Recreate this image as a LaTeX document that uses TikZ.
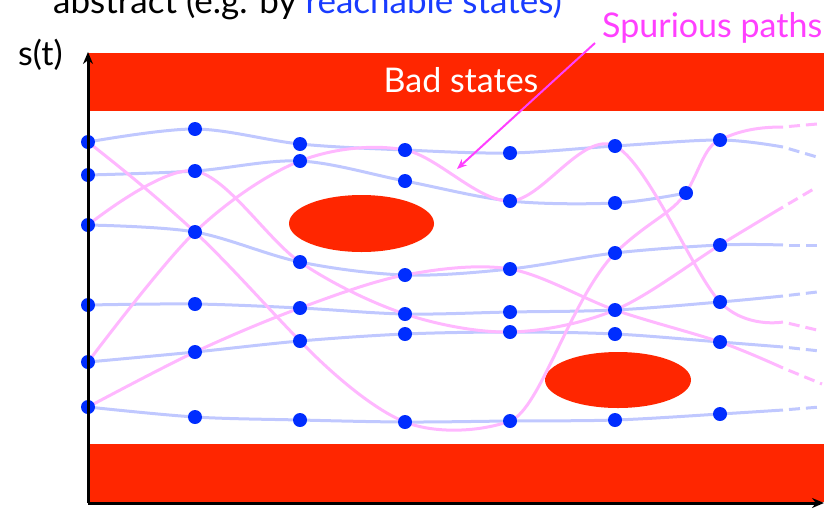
\documentclass[tikz,border=0pt]{standalone}
\usepackage{fontspec}
\setmainfont{Lato}
\usetikzlibrary{arrows.meta,backgrounds}
\definecolor{badred}{RGB}{255,38,0}
\definecolor{dotblue}{RGB}{0,45,255}
\definecolor{lineblue}{RGB}{192,200,255}
\definecolor{linepink}{RGB}{255,184,255}
\definecolor{spur}{RGB}{255,64,255}
\definecolor{textblue}{RGB}{25,60,255}
\begin{document}
\begin{tikzpicture}[x=1pt,y=-1pt,
  dot/.style={circle,fill=dotblue,inner sep=0pt,minimum size=14pt},
  bline/.style={draw=lineblue,line width=3pt},
  pline/.style={draw=linepink,line width=3pt},
  tailb/.style={draw=lineblue,line width=3pt,dash pattern=on 11pt off 6pt,dash phase=11pt},
  tailp/.style={draw=linepink,line width=3pt,dash pattern=on 11pt off 6pt,dash phase=11pt},
  lbl/.style={inner sep=0pt,anchor=base west,font=\fontsize{34}{40}\selectfont},
  axis/.style={line width=3pt,-{Stealth[length=12pt,width=10pt]}}]
\clip (0,0) rectangle (832,509);
% dots
\foreach \n/\x/\y in {a1/88/142,a2/88/175,a3/88/225,a4/88/305,a5/88/362,a6/88/407,
  b1/195/129,b2/195/171,b3/195/232,b4/195/304,b5/195/352,b6/195/417,
  c1/300/144,c2/300/161,c3/300/262,c4/300/308,c5/300/341,c6/300/420,
  d1/405/150,d2/405/181,d3/405/275,d4/405/314,d5/405/334,d6/405/422,
  e1/510/153,e2/510/201,e3/510/269,e4/510/312,e5/510/332,e6/510/421,
  f1/615/146,f2/615/203,f3/615/253,f4/615/310,f5/615/334,f6/615/420,
  x1/686/193,
  g1/720/140,g2/720/245,g3/720/302,g4/720/342,g5/720/414}
  {\node[dot] (\n) at (\x,\y) {};}
% curve ends
\coordinate (bs1) at (783,147); \coordinate (bt1) at (817,157);
\coordinate (bs3) at (783,245); \coordinate (bt3) at (817,245);
\coordinate (bs4) at (783,296); \coordinate (bt4) at (817,292);
\coordinate (bs5) at (783,347); \coordinate (bt5) at (820,351);
\coordinate (bs6) at (783,410); \coordinate (bt6) at (820,407);
\coordinate (psA) at (783,127); \coordinate (ptA) at (817,124);
\coordinate (psB) at (783,322); \coordinate (ptB) at (817,330);
\coordinate (psC) at (783,368); \coordinate (ptC) at (822,384);
\coordinate (psD) at (783,207); \coordinate (ptD) at (817,187);
\begin{pgfonlayer}{background}
  \fill[badred] (88,53) rectangle (824,111);
  \fill[badred] (88,444) rectangle (824,502);
  \fill[badred] (361.5,223.5) ellipse [x radius=72.5pt, y radius=28.5pt];
  \fill[badred] (618,380) ellipse [x radius=73pt, y radius=28pt];
  % blue paths
  \draw[bline] plot[smooth,tension=0.55] coordinates {(a1.center) (b1.center) (c1.center) (d1.center) (e1.center) (f1.center) (g1.center) (bs1)};
  \draw[bline] plot[smooth,tension=0.55] coordinates {(a2.center) (b2.center) (c2.center) (d2.center) (e2.center) (f2.center) (x1.center)};
  \draw[bline] plot[smooth,tension=0.55] coordinates {(a3.center) (b3.center) (c3.center) (d3.center) (e3.center) (f3.center) (g2.center) (bs3)};
  \draw[bline] plot[smooth,tension=0.55] coordinates {(a4.center) (b4.center) (c4.center) (d4.center) (e4.center) (f4.center) (g3.center) (bs4)};
  \draw[bline] plot[smooth,tension=0.55] coordinates {(a5.center) (b5.center) (c5.center) (d5.center) (e5.center) (f5.center) (g4.center) (bs5)};
  \draw[bline] plot[smooth,tension=0.55] coordinates {(a6.center) (b6.center) (c6.center) (d6.center) (e6.center) (f6.center) (g5.center) (bs6)};
  \draw[tailb] (bs1) -- (bt1);
  \draw[tailb] (bs3) -- (bt3);
  \draw[tailb] (bs4) -- (bt4);
  \draw[tailb] (bs5) -- (bt5);
  \draw[tailb] (bs6) -- (bt6);
  % pink paths
  \draw[pline] (a1.center) .. controls (130,175) and (160,200) .. (b3.center)
    .. controls (230,265) and (265,305) .. (c5.center)
    .. controls (335,377) and (375,410) .. (d6.center)
    .. controls (435,434) and (480,432) .. (e6.center)
    .. controls (540,410) and (570,300) .. (f3.center)
    .. controls (650,220) and (670,215) .. (x1.center)
    .. controls (700,170) and (705,145) .. (g1.center)
    .. controls (740,130) and (760,127) .. (psA);
  \draw[pline] plot[smooth,tension=0.55] coordinates {(a5.center) (b3.center) (c2.center) (d1.center) (e2.center) (f1.center) (g3.center) (psB)};
  \draw[pline] plot[smooth,tension=0.55] coordinates {(a6.center) (b5.center) (c4.center) (d3.center) (e3.center) (f4.center) (g4.center) (psC)};
  \draw[pline] plot[smooth,tension=0.55] coordinates {(a3.center) (b2.center) (c3.center) (d4.center) (e5.center) (f4.center) (g2.center) (psD)};
  \draw[tailp] (psA) -- (ptA);
  \draw[tailp] (psB) -- (ptB);
  \draw[tailp] (psC) -- (ptC);
  \draw[tailp] (psD) -- (ptD);
\end{pgfonlayer}
% axes
\coordinate (origin) at (88,503);
\coordinate (ytip) at (88,52);
\coordinate (xtip) at (824,503);
\draw[axis] (origin) -- (ytip);
\draw[axis] (origin) -- (xtip);
% texts
\node[lbl,font=\fontsize{35}{40}\selectfont] (title) at (53,13) {abstract (e.g. by \textcolor{textblue}{reachable states)}};
\node[lbl] (st) at (18,65) {s(t)};
\node[lbl,anchor=base,text=white] (bad) at (461,92) {Bad states};
\node[lbl,text=spur] (spur) at (602,37) {Spurious paths};
\coordinate (arrtip) at (457,169);
\draw[spur,line width=2pt,-{Stealth[length=10pt,width=8pt]}] (595,43) -- (arrtip);
\end{tikzpicture}
\end{document}
